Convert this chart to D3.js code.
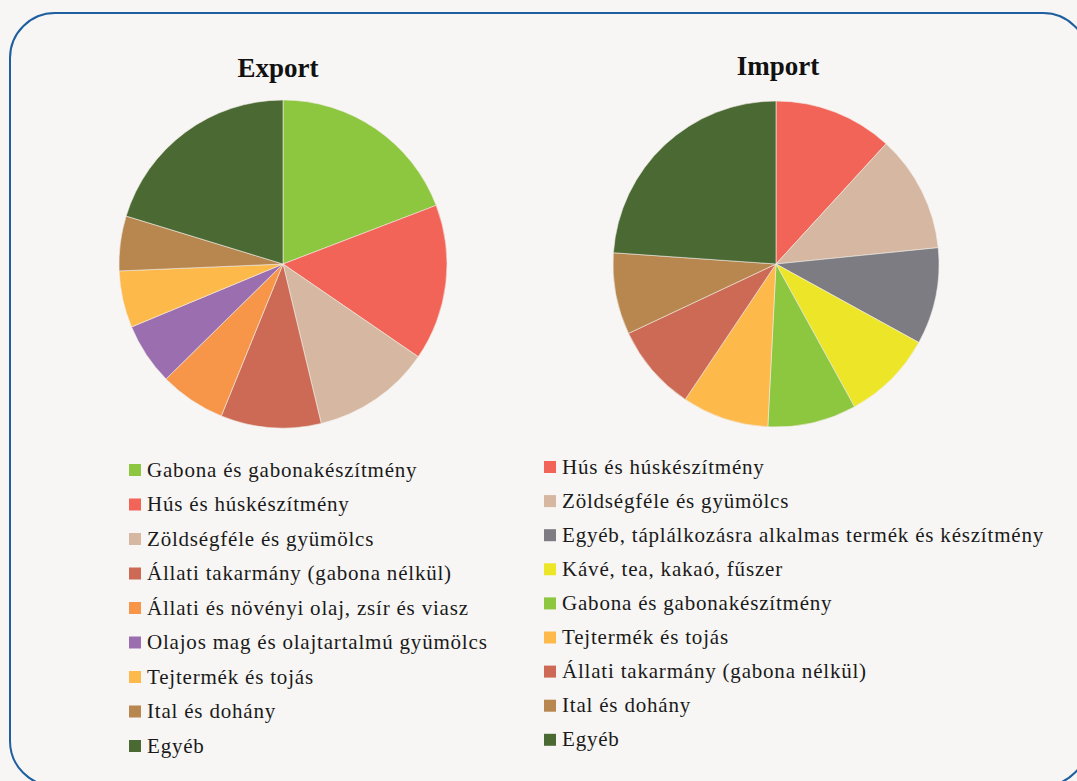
<!DOCTYPE html>
<html>
<head>
<meta charset="utf-8">
<script src="https://cdn.jsdelivr.net/npm/d3@7"></script>
<style>
	html, body { margin: 0; padding: 0; background: #f7f6f4; }
	svg { display: block; }
</style>
</head>
<body>
<div id="chart"></div>
<script>
// export side
var exportLabels = [
	'Gabona és gabonakészítmény',
	'Hús és húskészítmény',
	'Zöldségféle és gyümölcs',
	'Állati takarmány (gabona nélkül)',
	'Állati és növényi olaj, zsír és viasz',
	'Olajos mag és olajtartalmú gyümölcs',
	'Tejtermék és tojás',
	'Ital és dohány',
	'Egyéb'
];
var exportValues = [19.2, 15.4, 11.7, 9.9, 6.5, 6.1, 5.6, 5.4, 20.3];
var exportColors = ['#8dc63f', '#f26457', '#d6b7a1', '#cc6a55', '#f79548', '#9b6faf', '#fdb94a', '#b8864f', '#4b6a33'];

// import side
var importLabels = [
	'Hús és húskészítmény',
	'Zöldségféle és gyümölcs',
	'Egyéb, táplálkozásra alkalmas termék és készítmény',
	'Kávé, tea, kakaó, fűszer',
	'Gabona és gabonakészítmény',
	'Tejtermék és tojás',
	'Állati takarmány (gabona nélkül)',
	'Ital és dohány',
	'Egyéb'
];
var importValues = [11.8, 11.6, 9.6, 9.0, 8.8, 8.6, 8.6, 8.1, 23.9];
var importColors = ['#f26457', '#d6b7a1', '#7c7c82', '#ede628', '#8dc63f', '#fdb94a', '#cc6a55', '#b8864f', '#4b6a33'];

var chartTitles = ['Export', 'Import'];

(function () {
	'use strict';

	var width = 1077;
	var height = 781;
	var serif = '"Liberation Serif", "DejaVu Serif", serif';

	var svg = d3.select('#chart').append('svg')
		.attr('width', width)
		.attr('height', height);

	// rounded frame, runs off the right and bottom edge
	svg.append('rect')
		.attr('x', 10)
		.attr('y', 13)
		.attr('width', 1078)
		.attr('height', 773)
		.attr('rx', 45)
		.attr('ry', 45)
		.attr('fill', '#f7f6f4')
		.attr('stroke', '#1f5fa0')
		.attr('stroke-width', 2);

	var panels = [
		{ title: chartTitles[0], labels: exportLabels, values: exportValues, colors: exportColors,
			cx: 283, cy: 264, r: 164, titleX: 278, titleY: 77, legX: 129, legY: 464, legStep: 34.5 },
		{ title: chartTitles[1], labels: importLabels, values: importValues, colors: importColors,
			cx: 776, cy: 264, r: 163, titleX: 778, titleY: 75, legX: 544, legY: 461, legStep: 34.1 }
	];

	var pie = d3.pie().sort(null);

	panels.forEach(function (p) {
		var color = d3.scaleOrdinal()
			.domain(p.labels)
			.range(p.colors);

		var arc = d3.arc()
			.innerRadius(0)
			.outerRadius(p.r);

		svg.append('text')
			.attr('x', p.titleX)
			.attr('y', p.titleY)
			.attr('text-anchor', 'middle')
			.style('font-family', serif)
			.style('font-weight', 'bold')
			.style('font-size', '27px')
			.style('fill', '#111')
			.text(p.title);

		var g = svg.append('g')
			.attr('transform', 'translate(' + p.cx + ',' + p.cy + ')');

		g.selectAll('path').data(pie(p.values))
			.enter().append('path')
			.attr('d', arc)
			.attr('fill', function (d, i) { return color(p.labels[i]); })
			.style('stroke', '#f1ece6')
			.style('stroke-width', 0.6);

		// legend
		var y = d3.scaleLinear()
			.domain([0, 1])
			.range([p.legY, p.legY + p.legStep]);

		var item = svg.append('g').selectAll('g').data(p.labels)
			.enter().append('g')
			.attr('transform', function (d, i) { return 'translate(' + p.legX + ',' + y(i) + ')'; });

		item.append('rect')
			.attr('width', 12)
			.attr('height', 12)
			.attr('fill', function (d) { return color(d); });

		item.append('text')
			.attr('x', 18)
			.attr('y', 12.5)
			.style('font-family', serif)
			.style('font-size', '21px')
			.style('letter-spacing', '0.8px')
			.style('fill', '#1a1a1a')
			.text(function (d) { return d; });
	});
})();
</script>
</body>
</html>
